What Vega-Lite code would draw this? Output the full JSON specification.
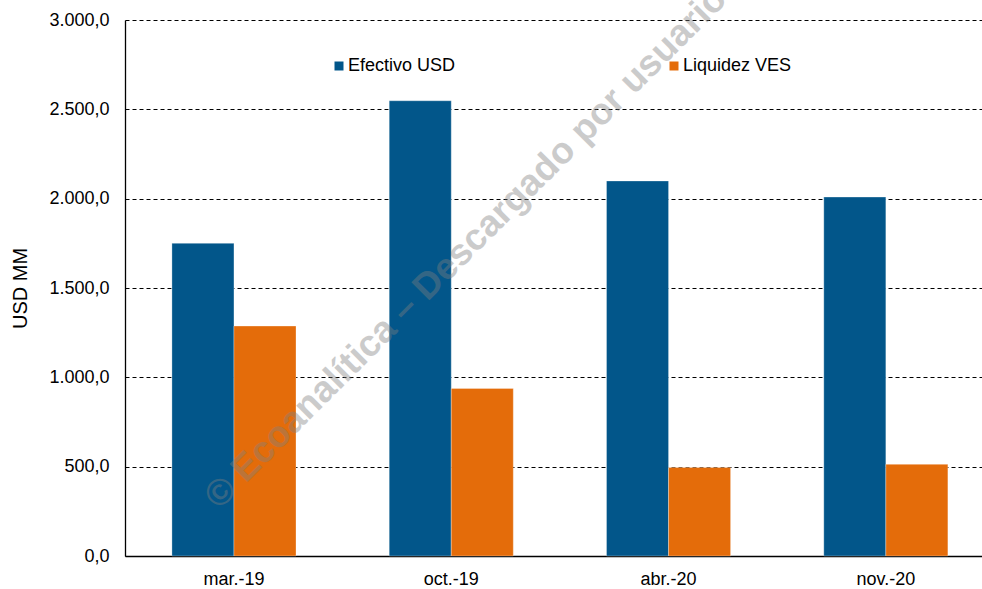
{
  "$schema": "https://vega.github.io/schema/vega-lite/v6.json",
  "width": 857,
  "height": 536,
  "autosize": {"type": "none"},
  "padding": {"left": 125, "top": 20, "right": 0, "bottom": 33},
  "config": {
    "view": {"stroke": null},
    "font": "Liberation Sans",
    "locale": {"number": {"decimal": ",", "thousands": ".", "grouping": [3], "currency": ["", ""]}}
  },
  "datasets": {
    "bars": [
      {"fecha": "mar.-19", "serie": "Efectivo USD", "valor": 1750},
      {"fecha": "mar.-19", "serie": "Liquidez VES", "valor": 1287},
      {"fecha": "oct.-19", "serie": "Efectivo USD", "valor": 2548},
      {"fecha": "oct.-19", "serie": "Liquidez VES", "valor": 938},
      {"fecha": "abr.-20", "serie": "Efectivo USD", "valor": 2099},
      {"fecha": "abr.-20", "serie": "Liquidez VES", "valor": 496},
      {"fecha": "nov.-20", "serie": "Efectivo USD", "valor": 2009},
      {"fecha": "nov.-20", "serie": "Liquidez VES", "valor": 513}
    ],
    "wm": [
      {"fecha": "oct.-19", "valor": 1724, "texto": "© Ecoanalítica – Descargado por usuario"}
    ]
  },
  "layer": [
    {
      "data": {"name": "bars"},
      "mark": {"type": "bar", "stroke": "#ffffff", "strokeWidth": 0.6, "strokeOpacity": 0.5},
      "encoding": {
        "x": {
          "field": "fecha", "type": "nominal",
          "sort": ["mar.-19", "oct.-19", "abr.-20", "nov.-20"],
          "scale": {"paddingInner": 0.429, "paddingOuter": 0.1865, "align": 0.579},
          "axis": {"title": null, "labelAngle": 0, "ticks": false, "domainColor": "#000000", "domainWidth": 1.3, "labelFontSize": 18, "labelColor": "#000000", "labelPadding": 14}
        },
        "xOffset": {"field": "serie", "type": "nominal", "sort": ["Efectivo USD", "Liquidez VES"], "scale": {"paddingInner": 0, "paddingOuter": 0}},
        "y": {
          "field": "valor", "type": "quantitative",
          "scale": {"domain": [0, 3000], "nice": false},
          "axis": {"title": "USD MM", "format": ",.1f", "values": [0, 500, 1000, 1500, 2000, 2500, 3000], "grid": true, "gridColor": "#000000", "gridDash": [4, 3], "gridWidth": 1, "ticks": false, "domain": true, "domainColor": "#000000", "domainWidth": 1.3, "labelFontSize": 18, "labelColor": "#000000", "labelPadding": 16, "titleFontSize": 20, "titleFontWeight": "normal", "titleColor": "#000000", "titleX": -105, "titleY": 268, "titleAngle": -90, "titleAlign": "center", "titleBaseline": "middle"}
        },
        "color": {
          "field": "serie", "type": "nominal",
          "scale": {"domain": ["Efectivo USD", "Liquidez VES"], "range": ["#02568A", "#E46C0A"]},
          "legend": {"orient": "none", "legendX": 205, "legendY": 37, "direction": "horizontal", "title": null, "symbolType": "square", "symbolSize": 81, "symbolStrokeWidth": 0, "labelFontSize": 18, "labelColor": "#000000", "labelOffset": 0, "columnPadding": 209, "symbolOpacity": 1}
        }
      }
    },
    {
      "data": {"name": "wm"},
      "mark": {"type": "text", "angle": -45, "fontSize": 37, "fontWeight": "bold", "color": "#808080", "opacity": 0.4, "align": "center", "baseline": "middle"},
      "encoding": {
        "x": {"field": "fecha", "type": "nominal", "sort": ["mar.-19", "oct.-19", "abr.-20", "nov.-20"], "bandPosition": 0.62},
        "y": {"field": "valor", "type": "quantitative"},
        "text": {"field": "texto"}
      }
    }
  ]
}
